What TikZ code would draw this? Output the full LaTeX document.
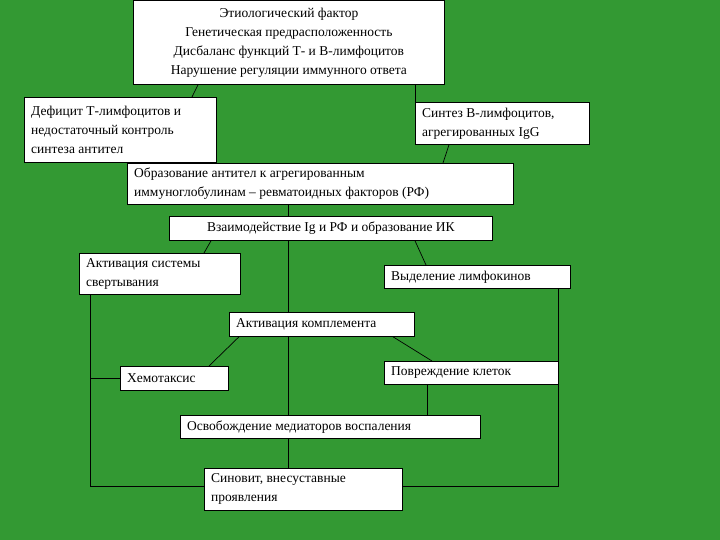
\documentclass[tikz,border=0pt]{standalone}
\usepackage{fontspec}
\setmainfont{Liberation Serif}
\begin{document}
\begin{tikzpicture}[x=1pt,y=-1pt,
  box/.style={draw=black,fill=white,line width=0.8pt,anchor=north west,inner sep=0pt,font=\fontsize{13.5}{19}\selectfont},
  ln/.style={draw=black,line width=0.7pt}]
\fill[fill={rgb,255:red,51;green,153;blue,51}] (0,0) rectangle (720,540);
\useasboundingbox (0,0) rectangle (720,540);
\newcommand{\bx}[6]{\node[box,minimum width=#4-#2,minimum height=#5-#3] (#1) at (#2,#3) {};
  \node[anchor=west,font=\fontsize{13.5}{19}\selectfont,align=left,inner sep=0pt] at ([xshift=7pt]#1.west) {#6};}
% top box centered
\node[box,minimum width=311,minimum height=84,align=center] (top) at (133,0) {Этиологический фактор\\Генетическая предрасположенность\\Дисбаланс функций Т- и В-лимфоцитов\\Нарушение регуляции иммунного ответа};
\bx{def}{24}{97}{216}{162}{Дефицит Т-лимфоцитов и\\недостаточный контроль\\синтеза антител}
\bx{syn}{415}{102}{589}{144}{Синтез В-лимфоцитов,\\агрегированных IgG}
\bx{obr}{127}{163}{513}{204}{Образование антител к агрегированным\\иммуноглобулинам – ревматоидных факторов (РФ)}
\node[box,minimum width=323,minimum height=24] (vz) at (169,216) {};
\node[font=\fontsize{13.5}{19}\selectfont,inner sep=0pt] at (vz.center) {Взаимодействие Ig и РФ и образование ИК};
\bx{akt}{79}{253}{240}{294}{Активация системы\\свертывания}
\bx{vyd}{384}{265}{570}{288}{Выделение лимфокинов}
\bx{komp}{229}{312}{414}{336}{Активация комплемента}
\bx{hemo}{120}{366}{228}{390}{Хемотаксис}
\bx{povr}{384}{361}{558}{384}{Повреждение клеток}
\bx{osv}{180}{415}{480}{438}{Освобождение медиаторов воспаления}
\bx{sin}{204}{468}{402}{510}{Синовит, внесуставные\\проявления}
\coordinate (bl) at (90,486);
\coordinate (br) at (558,486);
\coordinate (hl) at (90,378);
\draw[ln] ([xshift=65pt]top.south west) -- ([xshift=168pt]def.north west);
\draw[ln] ([xshift=282pt]top.south west) -- (syn.north west);
\draw[ln] ([xshift=34pt]syn.south west) -- ([xshift=316pt]obr.north west);
\draw[ln] ([xshift=161pt]obr.south west) -- ([xshift=119pt]vz.north west);
\draw[ln] ([xshift=42pt]vz.south west) -- ([xshift=125pt]akt.north west);
\draw[ln] ([xshift=246pt]vz.south west) -- ([xshift=42pt]vyd.north west);
\draw[ln] ([xshift=119pt]vz.south west) -- ([xshift=59pt]komp.north west);
\draw[ln] ([xshift=59pt]komp.south west) -- ([xshift=108pt]osv.north west);
\draw[ln] ([xshift=108pt]osv.south west) -- ([xshift=84pt]sin.north west);
\draw[ln] ([xshift=10pt]komp.south west) -- ([xshift=89pt]hemo.north west);
\draw[ln] ([xshift=164pt]komp.south west) -- ([xshift=48pt]povr.north west);
\draw[ln] ([xshift=43pt]povr.south west) -- ([xshift=247pt]osv.north west);
\draw[ln] ([xshift=11pt]akt.south west) -- (bl) -- (bl -| sin.west);
\draw[ln] (hl) -- (hl -| hemo.west);
\draw[ln] (vyd.south east -| br) -- (br) -- (br -| sin.east);
\end{tikzpicture}
\end{document}
